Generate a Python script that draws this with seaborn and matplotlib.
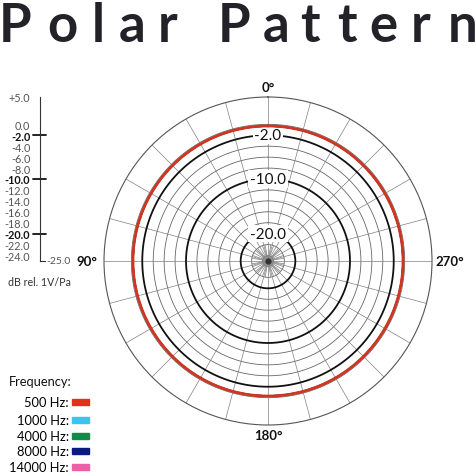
import numpy as np
import pandas as pd
import seaborn as sns
import matplotlib.pyplot as plt

# Dados
angles_deg = [0, 15, 30, 45, 60, 75, 90, 105, 120, 135, 150, 165, 180,
              195, 210, 225, 240, 255, 270, 285, 300, 315, 330, 345, 360]
level_500 = [-0.3, -0.3, -0.3, -0.3, -0.3, -0.3, -0.3, -0.3, -0.3, -0.3, -0.3, -0.3, -0.3,
             -0.3, -0.3, -0.3, -0.3, -0.3, -0.3, -0.3, -0.3, -0.3, -0.3, -0.3, -0.3]
level_1000 = [-0.3, -0.3, -0.3, -0.3, -0.3, -0.3, -0.3, -0.3, -0.3, -0.3, -0.3, -0.3, -0.3,
              -0.3, -0.3, -0.3, -0.3, -0.3, -0.3, -0.3, -0.3, -0.3, -0.3, -0.3, -0.3]
level_4000 = [-0.3, -0.3, -0.3, -0.3, -0.3, -0.3, -0.3, -0.3, -0.3, -0.3, -0.3, -0.3, -0.3,
              -0.3, -0.3, -0.3, -0.3, -0.3, -0.3, -0.3, -0.3, -0.3, -0.3, -0.3, -0.3]
level_8000 = [-0.3, -0.3, -0.3, -0.3, -0.3, -0.3, -0.3, -0.3, -0.3, -0.3, -0.3, -0.3, -0.3,
              -0.3, -0.3, -0.3, -0.3, -0.3, -0.3, -0.3, -0.3, -0.3, -0.3, -0.3, -0.3]
level_14000 = [-0.3, -0.3, -0.3, -0.3, -0.3, -0.3, -0.3, -0.3, -0.3, -0.3, -0.3, -0.3, -0.3,
               -0.3, -0.3, -0.3, -0.3, -0.3, -0.3, -0.3, -0.3, -0.3, -0.3, -0.3, -0.3]

freq_labels = ['500 Hz', '1000 Hz', '4000 Hz', '8000 Hz', '14000 Hz']
freq_colors = ['#e0301e', '#3ec3ee', '#138a47', '#0b1a80', '#ef5fa7']

scale_ticks = [5, 0, -2, -4, -6, -8, -10, -12, -14, -16, -18, -20, -22, -24]
bold_ticks = [-2, -10, -20]
ring_levels = [0, -2, -4, -6, -8, -10, -12, -14, -16, -18, -20, -22, -24]

# Tabela longa para o seaborn
series = [level_500, level_1000, level_4000, level_8000, level_14000]
rows = []
for name, vals in zip(freq_labels, series):
    for a, v in zip(angles_deg, vals):
        rows.append({'theta': np.deg2rad(a), 'level': v, 'freq': name})
df = pd.DataFrame(rows)

sns.set_theme(style='white')
plt.rcParams['font.family'] = ['Lato', 'DejaVu Sans']

W = H = 477
fig = plt.figure(figsize=(W / 100, H / 100), dpi=100)

def px(x, y):
    return x / W, 1 - y / H

# Geometria do gráfico polar (pixels)
cx, cy, R = 268, 262, 164

ax = fig.add_axes([(cx - R) / W, (H - cy - R) / H, 2 * R / W, 2 * R / H], projection='polar')
ax.set_theta_zero_location('N')
ax.set_theta_direction(1)
ax.set_ylim(-25, 5)
ax.grid(False)
ax.set_xticks([])
ax.set_yticks([])
ax.spines['polar'].set_color('#555555')
ax.spines['polar'].set_linewidth(0.8)

full = np.linspace(0, 2 * np.pi, 361)

# Anéis
for lv in ring_levels:
    if lv in bold_ticks:
        ax.plot(full, np.full_like(full, lv), color='#111111', lw=1.3, zorder=1.2)
    else:
        ax.plot(full, np.full_like(full, lv), color='#666666', lw=0.6, zorder=1)

# Raios
for a in range(0, 360, 15):
    t = np.deg2rad(a)
    ax.plot([t, t], [-25, 5], color='#808080', lw=0.5, zorder=1)
for a in range(0, 360, 10):
    if a % 15 == 0:
        continue
    t = np.deg2rad(a)
    ax.plot([t, t], [-25, -22], color='#808080', lw=0.5, zorder=1)

# Centro
ax.plot(full, np.full_like(full, -24.1), color='#888888', lw=1.0, zorder=1.3)
ax.scatter([0], [-25], s=12, color='#333333', zorder=1.4)

# Rótulos dos anéis
for lv in bold_ticks:
    ax.text(0, lv, f'{lv:.1f}', ha='center', va='center', fontsize=11,
            color='#111111', zorder=1.5,
            bbox=dict(fc='white', ec='none', pad=1.2))

# Curvas de resposta
n_before = len(ax.lines)
sns.lineplot(data=df, x='theta', y='level', hue='freq',
             hue_order=freq_labels[::-1], palette=dict(zip(freq_labels, freq_colors)),
             sort=False, estimator=None, lw=1.3, legend=False, ax=ax)
curves = ax.lines[n_before:]
for ln in curves:
    ln.get_path()._interpolation_steps = 40
curves[-1].set_linewidth(2.0)
curves[-1].set_color('#d2351f')
ax.set_xlabel('')
ax.set_ylabel('')
ax.set_ylim(-25, 5)

# Ângulos
for label, (x, y) in zip(['0°', '90°', '180°', '270°'],
                         [(268, 88), (87, 262), (268, 436), (450, 262)]):
    fig.text(*px(x, y), label, ha='center', va='center', fontsize=9.5,
             color='#111111', fontweight='bold')

# Escala vertical à esquerda
ax2 = fig.add_axes([40 / W, (H - cy) / H, 5 / W, R / H])
ax2.set_ylim(-25, 5)
ax2.set_xlim(0, 1)
for s in ['top', 'right']:
    ax2.spines[s].set_visible(False)
ax2.spines['left'].set_color('#333333')
ax2.spines['bottom'].set_color('#333333')
ax2.spines['left'].set_linewidth(0.8)
ax2.spines['bottom'].set_linewidth(0.8)
ax2.set_xticks([])
ax2.set_yticks(scale_ticks)
ax2.set_yticklabels([f'{v:+.1f}' if v > 0 else f'{v:.1f}' for v in scale_ticks])
ax2.tick_params(axis='y', direction='out', length=5, width=0.6, pad=2,
                labelsize=7.8, colors='#333333', labelcolor='#555555')
ax2.set_facecolor('none')
for lbl, v in zip(ax2.get_yticklabels(), scale_ticks):
    if v in bold_ticks:
        lbl.set_fontweight('bold')
        lbl.set_color('#111111')
        lbl.set_fontsize(7.8)
for v in bold_ticks:
    ax2.plot([-1.4, 1.2], [v, v], color='#111111', lw=1.3, clip_on=False)
fig.text(*px(46, 262), '-25.0', ha='left', va='center', fontsize=7.5, color='#555555')
fig.text(*px(8, 283), 'dB rel. 1V/Pa', ha='left', va='center', fontsize=7.7, color='#333333')

# Legenda
fig.text(*px(9, 382), 'Frequency:', ha='left', va='center', fontsize=9.3, color='#111111')
leg_y = [403, 421, 437, 452, 468]
for name, col, y in zip(freq_labels, freq_colors, leg_y):
    fig.text(*px(69, y), name + ':', ha='right', va='center', fontsize=9.3,
             color='#000000')
    fig.patches.append(plt.Rectangle(px(72, y + 3), 17 / W, 6 / H,
                                     transform=fig.transFigure, color=col))

# Título com letras espaçadas
title_chars = ['P', 'o', 'l', 'a', 'r', 'P', 'a', 't', 't', 'e', 'r', 'n']
title_x = [15, 62, 98, 132, 168, 234, 276, 310, 347, 383, 421, 463]
for ch, x in zip(title_chars, title_x):
    fig.text(*px(x, 42), ch, ha='center', va='baseline', fontsize=38,
             fontweight='bold', color='#222228')

fig.savefig('out.png', dpi=100, facecolor='white')
